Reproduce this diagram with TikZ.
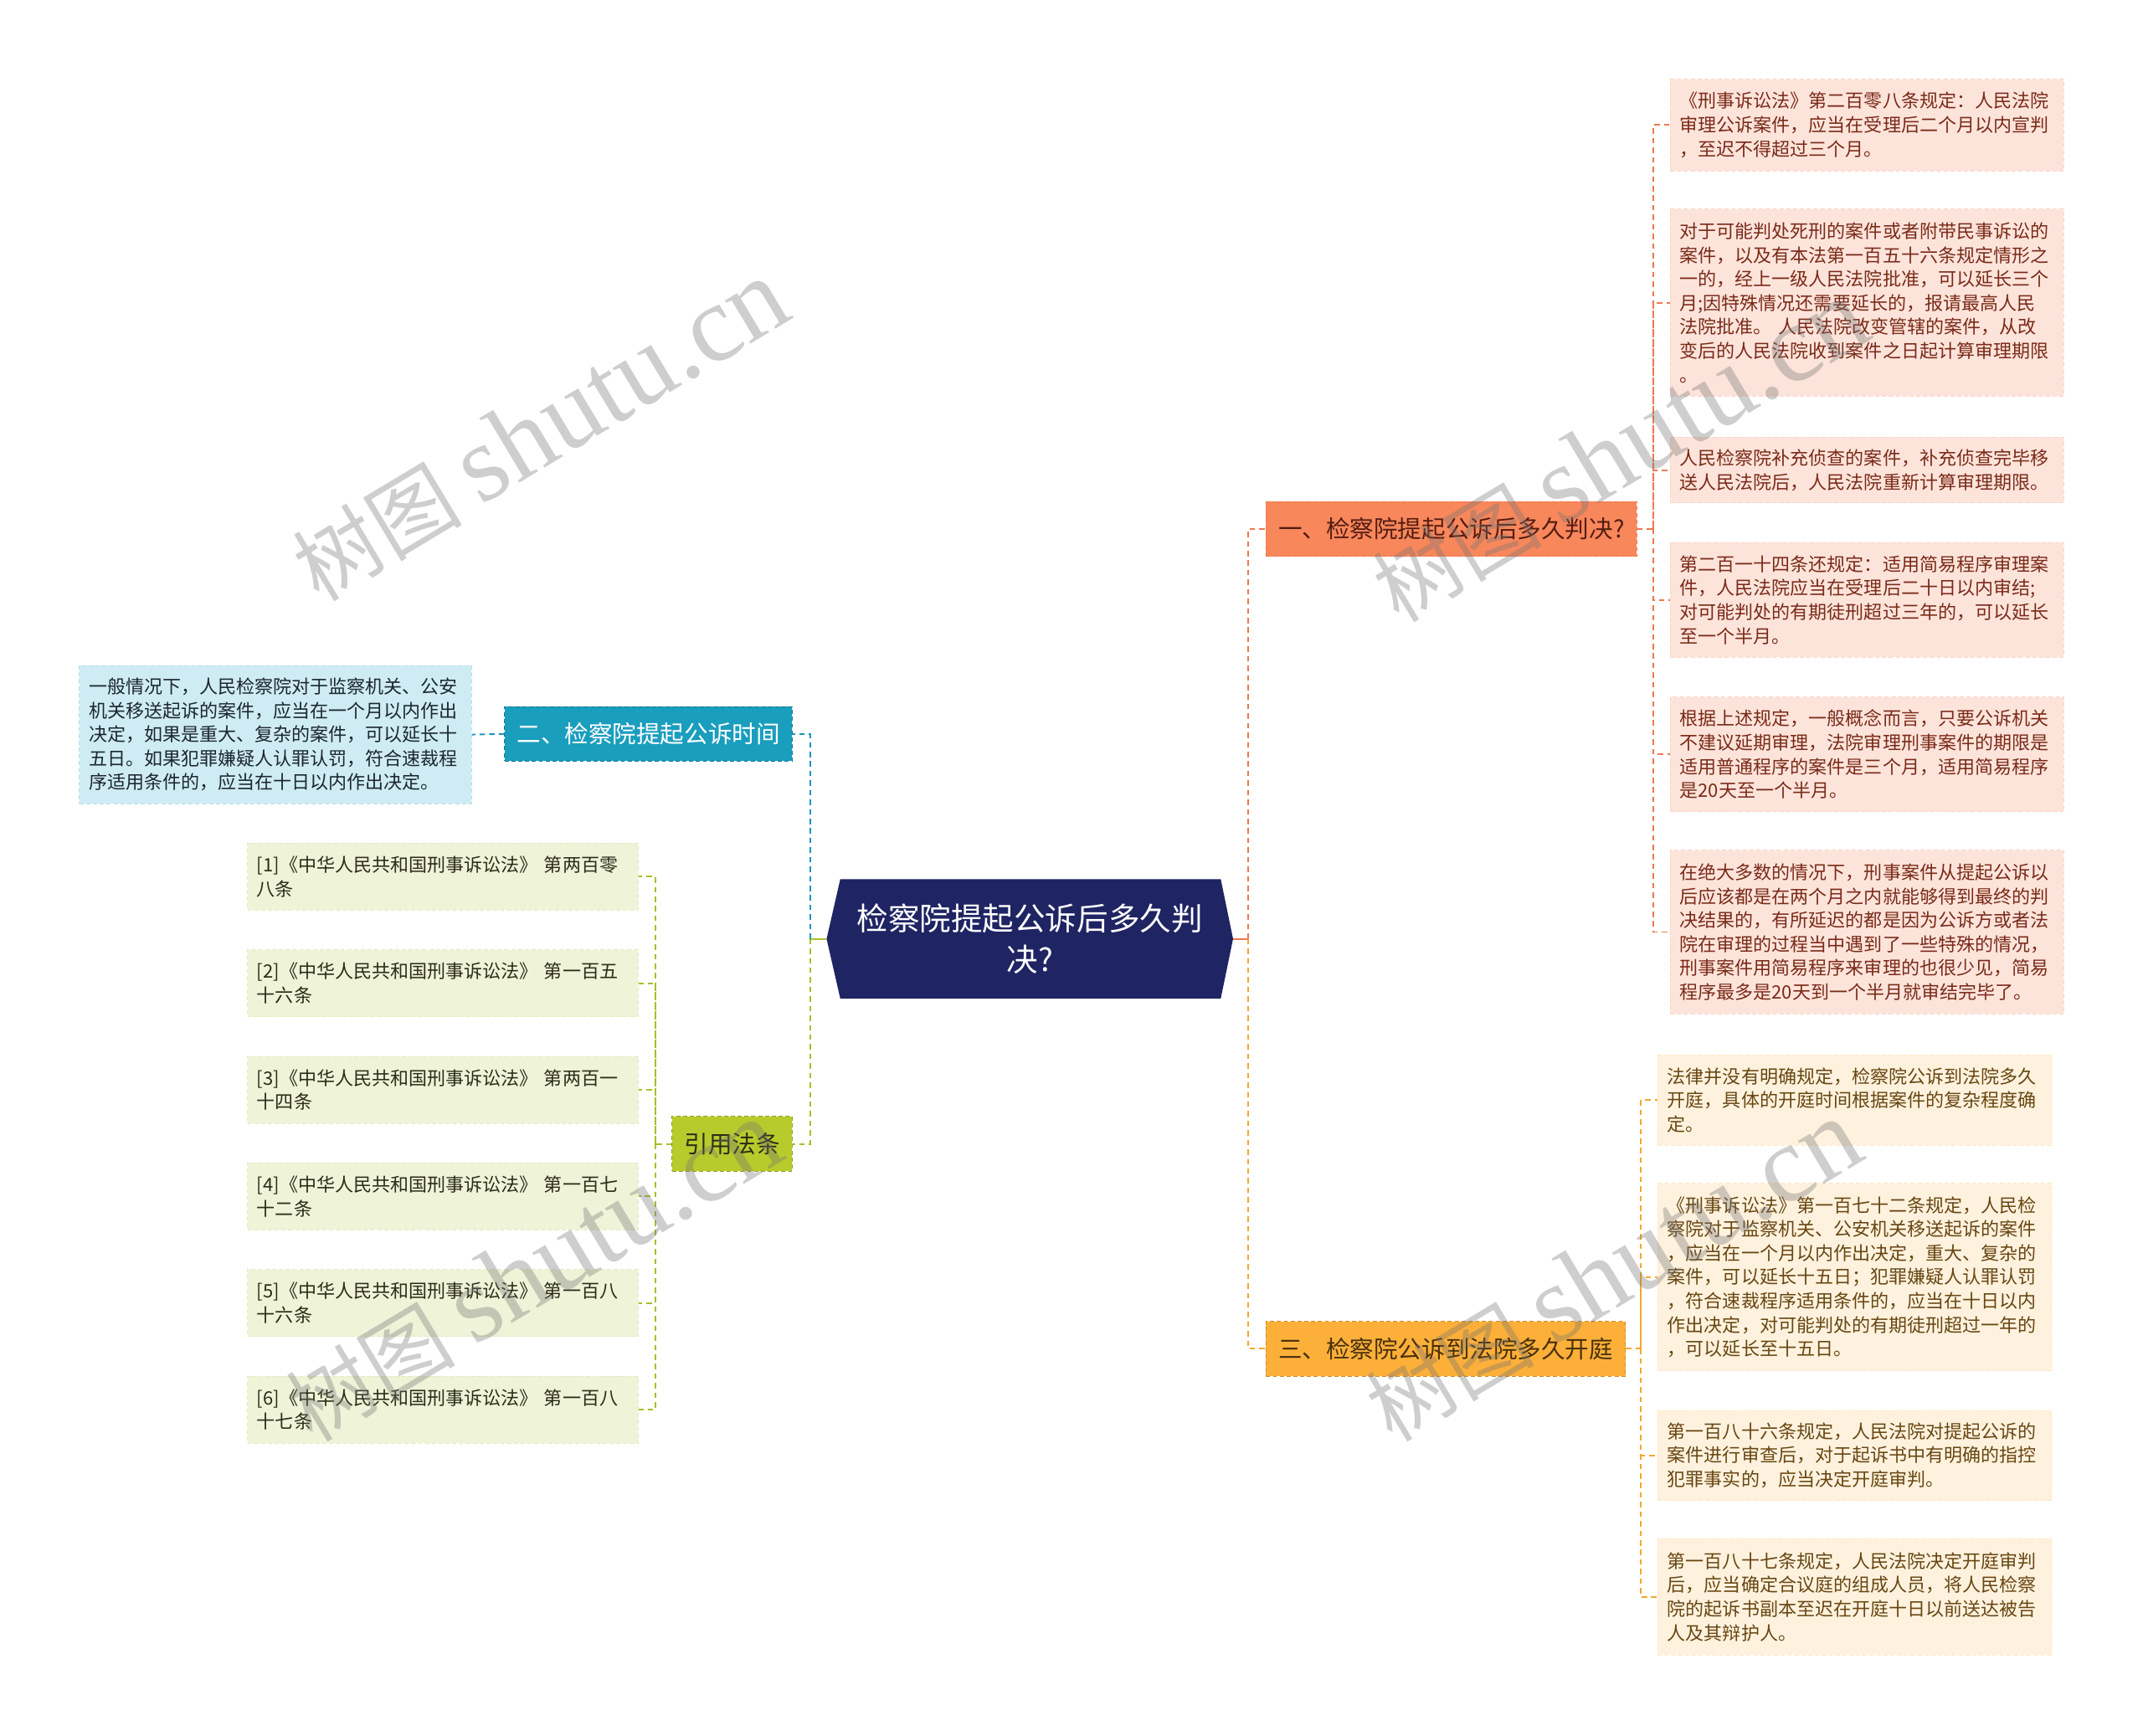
\documentclass[tikz,border=0pt]{standalone}
\usepackage{fontspec}
\setmainfont{Noto Sans CJK SC}
\newfontfamily\wmlatin{Liberation Serif}
\usetikzlibrary{positioning,backgrounds}
\definecolor{rootnavy}{RGB}{31,36,99}
\definecolor{orbranch}{RGB}{248,135,92}
\definecolor{orline}{RGB}{238,120,80}
\definecolor{orfill}{RGB}{253,228,219}
\definecolor{ortext}{RGB}{122,42,24}
\definecolor{blbranch}{RGB}{26,158,190}
\definecolor{blline}{RGB}{26,150,184}
\definecolor{blfill}{RGB}{207,236,244}
\definecolor{bltext}{RGB}{28,38,48}
\definecolor{yebranch}{RGB}{252,176,58}
\definecolor{yeline}{RGB}{246,166,44}
\definecolor{yefill}{RGB}{254,242,222}
\definecolor{yetext}{RGB}{104,70,18}
\definecolor{grbranch}{RGB}{184,203,44}
\definecolor{grline}{RGB}{170,190,40}
\definecolor{grfill}{RGB}{239,243,216}
\definecolor{grtext}{RGB}{44,44,24}
\newcommand\leaffont{\fontsize{13.5}{17.5}\selectfont}
\newcommand\branchfont{\fontsize{17.5}{21}\selectfont}
\newcommand\rootfont{\fontsize{23}{30}\selectfont}

\begin{document}
\begin{tikzpicture}[x=1pt,y=-1pt,every node/.style={inner sep=0pt},
      leaf/.style={font=\leaffont,text width=274pt,inner xsep=7pt,align=left,
        draw,dashed,line width=0.5pt,dash pattern=on 3pt off 2pt},
      leafor/.style={leaf,fill=orfill,draw=orfill!85!orline,text=ortext},
      leafye/.style={leaf,fill=yefill,draw=yefill!85!yeline,text=yetext},
      leafbl/.style={leaf,fill=blfill,draw=blfill!85!blline,text=bltext},
      leafgr/.style={leaf,fill=grfill,draw=grfill!85!grline,text=grtext,text width=272pt},
      branch/.style={font=\branchfont,inner xsep=9pt,minimum height=40pt,
        draw,line width=0.6pt,dash pattern=on 3pt off 2pt},
      link/.style={line width=1.2pt,dash pattern=on 4pt off 3pt},
      wmark/.style={text=black!55,opacity=0.35,rotate=31,font=\fontsize{62}{62}\selectfont}]
      \useasboundingbox(0,0)rectangle(1568,1270);
      % centre
      \node[font=\rootfont,text=white,align=center,minimum width=297pt,minimum height=87pt]
        (root) at (753.5,687) {检察院提起公诉后多久判\\决?};
      \begin{scope}[on background layer]
        \fill[rootnavy](root.west)--([xshift=10pt]root.north west)--([xshift=-9pt]root.north east)
          --(root.east)--([xshift=-9pt]root.south east)--([xshift=10pt]root.south west)--cycle;
      \end{scope}
      % branches
      \node[branch,fill=orbranch,draw=orline,text=ortext!70!black,anchor=west]
        (orq) at (926,387) {一、检察院提起公诉后多久判决?};
      \node[branch,fill=blbranch,draw=blline!80!black,text=white,anchor=east]
        (blq) at (580,537) {二、检察院提起公诉时间};
      \node[branch,fill=yebranch,draw=yeline!85!black,text=yetext!70!black,anchor=west]
        (yeq) at (926,987) {三、检察院公诉到法院多久开庭};
      \node[branch,fill=grbranch,draw=grline!85!black,text=grtext,anchor=east]
        (grq) at (580,837) {引用法条};
      % leaves of the first branch
      \node[leafor,minimum height=67pt](or1) at (1366,91.5)
        {《刑事诉讼法》第二百零八条规定：人民法院\\审理公诉案件，应当在受理后二个月以内宣判\\，至迟不得超过三个月。};
      \node[leafor,minimum height=137pt](or2) at (1366,221.5)
        {对于可能判处死刑的案件或者附带民事诉讼的\\案件，以及有本法第一百五十六条规定情形之\\一的，经上一级人民法院批准，可以延长三个\\月;因特殊情况还需要延长的，报请最高人民\\法院批准。 人民法院改变管辖的案件，从改\\变后的人民法院收到案件之日起计算审理期限\\。};
      \node[leafor,minimum height=48pt](or3) at (1366,344)
        {人民检察院补充侦查的案件，补充侦查完毕移\\送人民法院后，人民法院重新计算审理期限。};
      \node[leafor,minimum height=84pt](or4) at (1366,439)
        {第二百一十四条还规定：适用简易程序审理案\\件，人民法院应当在受理后二十日以内审结;\\对可能判处的有期徒刑超过三年的，可以延长\\至一个半月。};
      \node[leafor,minimum height=84pt](or5) at (1366,552)
        {根据上述规定，一般概念而言，只要公诉机关\\不建议延期审理，法院审理刑事案件的期限是\\适用普通程序的案件是三个月，适用简易程序\\是20天至一个半月。};
      \node[leafor,minimum height=120pt](or6) at (1366,682)
        {在绝大多数的情况下，刑事案件从提起公诉以\\后应该都是在两个月之内就能够得到最终的判\\决结果的，有所延迟的都是因为公诉方或者法\\院在审理的过程当中遇到了一些特殊的情况，\\刑事案件用简易程序来审理的也很少见，简易\\程序最多是20天到一个半月就审结完毕了。};
      % leaves of the third branch
      \node[leafye,minimum height=66pt](ye1) at (1357,805)
        {法律并没有明确规定，检察院公诉到法院多久\\开庭，具体的开庭时间根据案件的复杂程度确\\定。};
      \node[leafye,minimum height=137pt](ye2) at (1357,934.5)
        {《刑事诉讼法》第一百七十二条规定，人民检\\察院对于监察机关、公安机关移送起诉的案件\\，应当在一个月以内作出决定，重大、复杂的\\案件，可以延长十五日；犯罪嫌疑人认罪认罚\\，符合速裁程序适用条件的，应当在十日以内\\作出决定，对可能判处的有期徒刑超过一年的\\，可以延长至十五日。};
      \node[leafye,minimum height=66pt](ye3) at (1357,1065)
        {第一百八十六条规定，人民法院对提起公诉的\\案件进行审查后，对于起诉书中有明确的指控\\犯罪事实的，应当决定开庭审判。};
      \node[leafye,minimum height=85pt](ye4) at (1357,1168.5)
        {第一百八十七条规定，人民法院决定开庭审判\\后，应当确定合议庭的组成人员，将人民检察\\院的起诉书副本至迟在开庭十日以前送达被告\\人及其辩护人。};
      % second branch
      \node[leafbl,minimum height=101pt,text width=273pt](bl1) at (201.5,537.5)
        {一般情况下，人民检察院对于监察机关、公安\\机关移送起诉的案件，应当在一个月以内作出\\决定，如果是重大、复杂的案件，可以延长十\\五日。如果犯罪嫌疑人认罪认罚，符合速裁程\\序适用条件的，应当在十日以内作出决定。};
      % references
      \node[leafgr,minimum height=49pt](gr1) at (324,641.5)
        {[1]《中华人民共和国刑事诉讼法》 第两百零\\八条};
      \node[leafgr,minimum height=49pt](gr2) at (324,719.5)
        {[2]《中华人民共和国刑事诉讼法》 第一百五\\十六条};
      \node[leafgr,minimum height=49pt](gr3) at (324,797.5)
        {[3]《中华人民共和国刑事诉讼法》 第两百一\\十四条};
      \node[leafgr,minimum height=49pt](gr4) at (324,875.5)
        {[4]《中华人民共和国刑事诉讼法》 第一百七\\十二条};
      \node[leafgr,minimum height=49pt](gr5) at (324,953.5)
        {[5]《中华人民共和国刑事诉讼法》 第一百八\\十六条};
      \node[leafgr,minimum height=49pt](gr6) at (324,1031.5)
        {[6]《中华人民共和国刑事诉讼法》 第一百八\\十七条};
      % connectors
      \coordinate(rj) at ([xshift=11pt]root.east);
      \coordinate(lj) at ([xshift=-12pt]root.west);
      \coordinate(orj) at ([xshift=12pt]orq.east);
      \coordinate(yej) at ([xshift=11pt]yeq.east);
      \coordinate(grj) at ([xshift=-12pt]grq.west);
      \begin{scope}[on background layer]
        \draw[orline,line width=1.2pt](root.east)--(rj);
        \draw[grline,line width=1.2pt](root.west)--(lj);
        \draw[link,orline](rj)|-(orq.west);
        \draw[link,yeline](rj)|-(yeq.west);
        \draw[link,blline](lj)|-(blq.east);
        \draw[link,grline](lj)|-(grq.west);
        \draw[link,blline](blq.west)--(bl1.east);
        \draw[link,orline](orq.east)--(orj)|-(or1.west) (orj)|-(or2.west) (orj)|-(or3.west)
          (orj)|-(or4.west) (orj)|-(or5.west) (orj)|-(or6.west);
        \draw[link,yeline](yeq.east)--(yej)|-(ye1.west) (yej)|-(ye2.west) (yej)|-(ye3.west)
          (yej)|-(ye4.west);
        \draw[link,grline](grq.west)--(grj)|-(gr1.east) (grj)|-(gr2.east) (grj)|-(gr3.east)
          (grj)|-(gr4.east) (grj)|-(gr5.east) (grj)|-(gr6.east);
      \end{scope}
      % watermarks
      \node[wmark](wm1) at (395,315) {树图 {\wmlatin\fontsize{80}{80}\selectfont shutu.cn}};
      \node[wmark](wm2) at (1185,330) {树图 {\wmlatin\fontsize{80}{80}\selectfont shutu.cn}};
      \node[wmark](wm3) at (390,930) {树图 {\wmlatin\fontsize{80}{80}\selectfont shutu.cn}};
      \node[wmark](wm4) at (1180,930) {树图 {\wmlatin\fontsize{80}{80}\selectfont shutu.cn}};
   \end{tikzpicture}
\end{document}
